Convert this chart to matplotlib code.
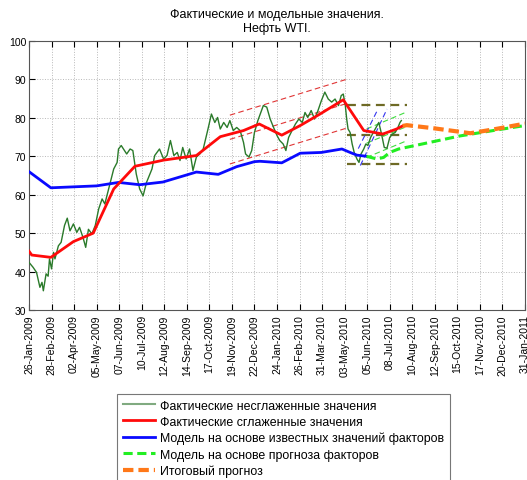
import numpy as np
import matplotlib
matplotlib.use("Agg")
import matplotlib.pyplot as plt

plt.rcParams['font.family'] = ['Liberation Sans', 'DejaVu Sans']

# x values are days since 26-Jan-2009
tick_labels = ["26-Jan-2009", "28-Feb-2009", "02-Apr-2009", "05-May-2009", "07-Jun-2009",
               "10-Jul-2009", "12-Aug-2009", "14-Sep-2009", "17-Oct-2009", "19-Nov-2009",
               "22-Dec-2009", "24-Jan-2010", "26-Feb-2010", "31-Mar-2010", "03-May-2010",
               "05-Jun-2010", "08-Jul-2010", "10-Aug-2010", "12-Sep-2010", "15-Oct-2010",
               "17-Nov-2010", "20-Dec-2010", "31-Jan-2011"]
tick_step = 33

# actual, unsmoothed
raw_days = [0, 6, 11, 16, 19, 21, 25, 28, 30, 33, 36, 38, 43, 47, 52, 56, 60, 65, 70, 74,
            79, 83, 87, 92, 97, 102, 107, 111, 119, 124, 129, 131, 135, 143, 148, 152, 157,
            162, 167, 172, 180, 184, 191, 197, 202, 207, 212, 217, 221, 225, 230, 235, 240,
            245, 250, 255, 262, 267, 272, 276, 280, 285, 290, 294, 299, 304, 309, 314, 317,
            322, 326, 330, 335, 343, 348, 353, 358, 363, 367, 372, 376, 380, 385, 390, 395,
            400, 404, 408, 413, 418, 423, 428, 433, 438, 443, 448, 453, 457, 460, 463, 465,
            467, 470, 473, 476, 480, 483, 486, 490, 493, 496, 500, 504, 508, 512, 516, 520,
            524, 528, 532, 536, 540, 543, 545]
raw_vals = [42.4, 41.1, 39.8, 35.9, 37.2, 35.0, 39.4, 38.8, 43.3, 40.7, 45.0, 43.3, 46.7, 47.6,
            52.0, 53.9, 50.6, 52.4, 50.2, 51.5, 48.9, 46.3, 51.0, 49.8, 52.0, 56.3, 58.9, 57.6,
            63.2, 66.7, 68.4, 71.9, 72.8, 70.6, 71.9, 71.5, 65.4, 61.5, 59.7, 63.2, 66.7, 70.2,
            71.9, 69.3, 70.2, 74.1, 70.2, 71.0, 68.9, 72.3, 69.3, 71.9, 66.3, 69.8, 70.6, 71.9,
            77.1, 81.0, 78.8, 80.1, 77.1, 78.8, 77.5, 79.3, 76.7, 77.5, 76.7, 73.6, 70.6, 69.8,
            71.5, 76.2, 79.3, 83.2, 82.8, 79.7, 77.5, 75.4, 74.1, 73.2, 71.5, 74.9, 76.7, 78.4,
            79.7, 78.8, 81.4, 80.1, 81.9, 79.7, 81.9, 84.5, 86.7, 84.9, 84.1, 84.9, 83.2, 85.8,
            86.2, 83.2, 79.7, 77.1, 76.2, 73.2, 71.0, 69.3, 68.4, 70.6, 71.9, 73.2, 72.8, 74.9,
            76.2, 77.5, 78.8, 75.8, 72.3, 72.1, 74.9, 75.8, 76.2, 77.5, 78.8, 79.3]

# actual, smoothed
smooth_days = [0, 4, 32, 65, 94, 124, 155, 197, 245, 280, 314, 337, 370, 397, 426, 460, 490, 518, 538, 547]
smooth_vals = [45.3, 44.3, 43.7, 47.8, 50.0, 61.5, 67.4, 69.0, 70.2, 75.1, 76.7, 78.4, 75.5,
               78.0, 81.0, 84.7, 76.7, 75.8, 77.1, 77.9]

# model on known factor values
known_days = [0, 32, 99, 131, 162, 196, 245, 277, 304, 330, 338, 370, 397, 428, 458, 470, 480, 494]
known_vals = [66.0, 61.8, 62.3, 63.2, 62.6, 63.3, 65.9, 65.3, 67.3, 68.6, 68.7, 68.3, 70.8,
              71.0, 71.9, 71.0, 70.3, 70.0]

# model on forecast factors
fcast_days = [494, 509, 519, 528, 541, 565, 631, 690, 726]
fcast_vals = [70.0, 69.3, 69.7, 71.0, 71.9, 72.8, 75.3, 77.0, 78.0]

# final forecast
final_days = [547, 553, 592, 646, 680, 726]
final_vals = [77.9, 78.1, 77.3, 76.0, 77.0, 78.5]

# trend channels: (start day, end day, start values, end values)
red_chan = (294, 468, [80.7, 74.4, 68.0], [90.2, 83.9, 77.5])
olive_lvls = (466, 553, [83.3, 75.6, 67.9])
lime_chan = (494, 551, [77.1, 73.4, 69.7], [81.4, 77.6, 73.9])
blue_chan = [(482, 510, 72.0, 82.0), (485, 524, 67.6, 82.3)]

legend_labels = ["Фактические несглаженные значения",
                 "Фактические сглаженные значения",
                 "Модель на основе известных значений факторов",
                 "Модель на основе прогноза факторов",
                 "Итоговый прогноз"]

fig = plt.figure(figsize=(5.27, 4.81), dpi=100)
ax = fig.add_axes([29 / 527, 1 - 311 / 481, 496 / 527, 269 / 481])

d0, d1, v0s, v1s = red_chan
for a, b in zip(v0s, v1s):
    ax.plot([d0, d1], [a, b], color="#e03535", lw=0.8, ls=(0, (5, 3)), zorder=2)
d0, d1, lv = olive_lvls
for a in lv:
    ax.plot([d0, d1], [a, a], color="#6e6a25", lw=1.6, ls=(0, (4, 2.5)), zorder=2)
d0, d1, v0s, v1s = lime_chan
for a, b in zip(v0s, v1s):
    ax.plot([d0, d1], [a, b], color="#40dd40", lw=0.8, ls=(0, (5, 3)), zorder=2)
for d0, d1, a, b in blue_chan:
    ax.plot([d0, d1], [a, b], color="#3535ee", lw=0.8, ls=(0, (5, 3)), zorder=2)

h1, = ax.plot(raw_days, raw_vals, color="#2a7a2a", lw=1.0, zorder=3)
h3, = ax.plot(known_days, known_vals, color="#0a0aff", lw=2.0, zorder=4)
h2, = ax.plot(smooth_days, smooth_vals, color="#ff0a0a", lw=2.0, zorder=5)
h4, = ax.plot(fcast_days, fcast_vals, color="#22ee22", lw=2.2, ls=(0, (3, 1.5)), zorder=4)
h5, = ax.plot(final_days, final_vals, color="#ff7818", lw=3.0, ls=(0, (2.5, 1.2)), zorder=5)

ax.set_xlim(0, tick_step * (len(tick_labels) - 1))
ax.set_ylim(30, 100)
ax.set_xticks(np.arange(len(tick_labels)) * tick_step)
ax.set_xticklabels(tick_labels, rotation=90, fontsize=7.5)
ax.set_yticks(np.arange(30, 101, 10))
ax.tick_params(axis="y", labelsize=7.5, direction="in", length=4, pad=2)
ax.tick_params(axis="x", direction="in", length=4, pad=3, top=True)
ax.grid(True, color="#b8b8b8", ls=":", lw=0.7)
for s in ax.spines.values():
    s.set_color("#555555")
    s.set_linewidth(0.8)

ax.set_title("Фактические и модельные значения.\nНефть WTI.", fontsize=9, pad=7, linespacing=1.3)

leg = fig.legend([h1, h2, h3, h4, h5], legend_labels, loc="upper left",
                 bbox_to_anchor=(117 / 527, 1 - 395 / 481), fontsize=8.9,
                 handlelength=2.65, handletextpad=0.4, labelspacing=0.34,
                 borderpad=0.45, borderaxespad=0, fancybox=False, framealpha=1)
leg.get_frame().set_edgecolor("#777777")
leg.get_frame().set_linewidth(0.8)
leg.legend_handles[0].set_color("#80aa80")
leg.legend_handles[0].set_linewidth(1.5)

fig.savefig("out.png", dpi=100)
